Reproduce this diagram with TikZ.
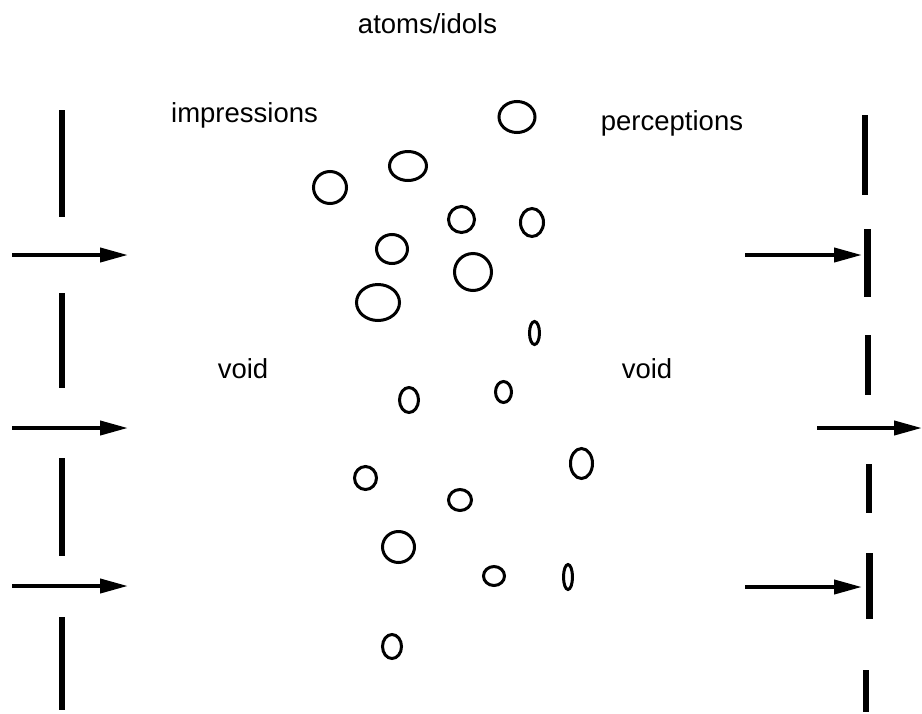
\documentclass[tikz,border=0pt]{standalone}
\usepackage{fontspec}
\setmainfont{Liberation Sans}
\usetikzlibrary{arrows.meta}

\begin{document}
\begin{tikzpicture}[x=1pt, y=-1pt,
    txt/.style={font=\fontsize{27.5}{33}\selectfont, anchor=base, inner sep=0pt},
    wall/.style={line width=6.5pt},
    ray/.style={line width=4pt, -{Triangle[length=28pt,width=14pt]}},
    atom/.style={line width=3pt}]
  \useasboundingbox (0,0) rectangle (922,713);

  % texts
  \node[txt] (atoms) at (427.5,33) {atoms/idols};
  \node[txt] (impr)  at (244.5,122) {impressions};
  \node[txt] (perc)  at (672,130) {perceptions};
  \node[txt] (voidl) at (243,378) {void};
  \node[txt] (voidr) at (647,378) {void};

  % left wall
  \foreach \a/\b in {110/217, 293/388, 458/556, 617/710}
    \draw[wall] (62,\a) -- (62,\b);

  % right wall
  \foreach \x/\a/\b in {865/115/195, 867.5/229/297, 868/335/395,
                        869/464/513, 869.5/553/619, 866/670/712}
    \draw[wall] (\x,\a) -- (\x,\b);

  % rays
  \coordinate (inA) at (12,255);
  \coordinate (inB) at (12,428);
  \coordinate (inC) at (12,586);
  \coordinate (atA) at (128,255);
  \coordinate (atB) at (128,428);
  \coordinate (atC) at (128,586);
  \coordinate (outA) at (745,255);
  \coordinate (outC) at (745,587);
  \coordinate (hitA) at (862,255);
  \coordinate (hitC) at (862,587);
  \coordinate (passB) at (817,428);
  \coordinate (endB) at (922,428);
  \draw[ray] (inA) -- (atA);
  \draw[ray] (inB) -- (atB);
  \draw[ray] (inC) -- (atC);
  \draw[ray] (outA) -- (hitA);
  \draw[ray] (outC) -- (hitC);
  \draw[ray] (passB) -- (endB);

  % atoms
  \foreach \cx/\cy/\rx/\ry in {517/117/18/15.5, 408/166/18.5/14.5,
      330/187.5/16.5/16, 461.5/219.5/13/13, 532/222.5/11.5/14,
      392/249/15.5/14.5, 473/272/18.5/18.5, 378/302.5/21.5/18,
      534.5/333/5/11.5, 409/400/9.5/12.5, 503.5/392/8/10.5,
      581.5/463.5/11/15, 365.5/478/11/11.5, 460/500/11.5/10.5,
      398.5/547/16/15.5, 494/576/10.5/9.5, 568/577/4.5/12.5,
      392/646.5/9.5/12}
    \draw[atom] (\cx,\cy) ellipse [x radius=\rx pt, y radius=\ry pt];
\end{tikzpicture}
\end{document}
